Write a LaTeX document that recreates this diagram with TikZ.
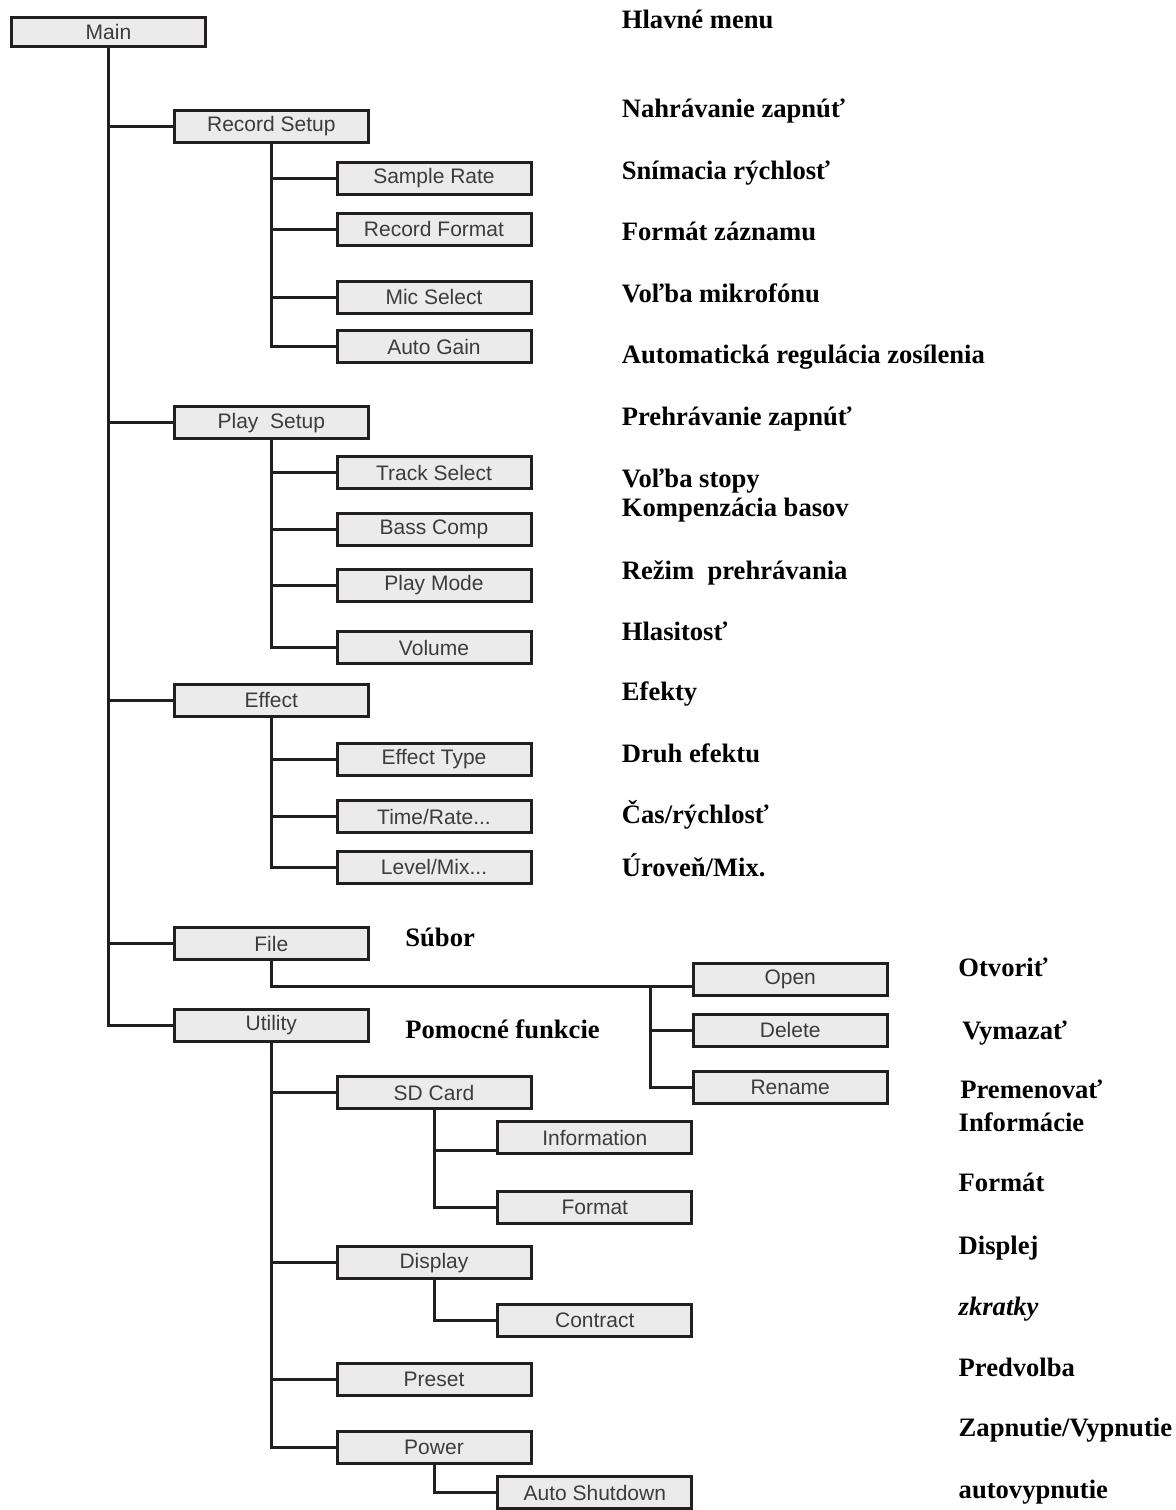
\documentclass[tikz,border=0pt]{standalone}
\usepackage{fontspec}
\setmainfont{Liberation Serif}
\setsansfont{Liberation Sans}
\definecolor{boxfill}{HTML}{EBEBEB}
\definecolor{boxline}{HTML}{231F20}
\definecolor{boxtext}{HTML}{3C3C3C}
\tikzset{
	menubox/.style={draw=boxline, fill=boxfill, line width=1.5pt, minimum width=97pt, minimum height=16pt, inner sep=0pt, outer sep=0pt, text=boxtext, font=\sffamily\fontsize{10.5}{12}\selectfont},
	link/.style={draw=boxline, line width=1.5pt},
	note/.style={anchor=base west, inner sep=0pt, font=\fontsize{13.3}{16}\selectfont\bfseries}
}

\begin{document}
\begin{tikzpicture}[x=0.5pt, y=-0.5pt]
	\useasboundingbox (0,0) rectangle (1176,1510);
	
	\node[menubox, minimum height=14.5pt] (main) at (108.5,31.7) {Main};
	
	\node[menubox] (recsetup) at (271.3,126.5) {Record Setup};
	\node[menubox] (samplerate) at (434,178) {Sample Rate};
	\node[menubox] (recformat) at (434,229.3) {Record Format};
	\node[menubox] (micselect) at (434,297) {Mic Select};
	\node[menubox] (autogain) at (434,346.7) {Auto Gain};
	
	\node[menubox] (playsetup) at (271.3,422.8) {Play\ \ Setup};
	\node[menubox] (trackselect) at (434,472.5) {Track Select};
	\node[menubox] (basscomp) at (434,529.3) {Bass Comp};
	\node[menubox] (playmode) at (434,585.3) {Play Mode};
	\node[menubox] (volume) at (434,647.5) {Volume};
	
	\node[menubox] (effect) at (271.3,700.3) {Effect};
	\node[menubox] (effecttype) at (434,759.3) {Effect Type};
	\node[menubox] (timerate) at (434,816.5) {Time/Rate...};
	\node[menubox] (levelmix) at (434,867.3) {Level/Mix...};
	
	\node[menubox] (file) at (271.3,943.5) {File};
	\node[menubox] (open) at (790.2,979.3) {Open};
	\node[menubox] (delete) at (790.2,1030) {Delete};
	\node[menubox] (rename) at (790.2,1087) {Rename};
	
	\node[menubox] (utility) at (271.3,1025.5) {Utility};
	\node[menubox] (sdcard) at (434,1092.5) {SD Card};
	\node[menubox] (info) at (594.8,1137.7) {Information};
	\node[menubox] (format) at (594.8,1207) {Format};
	\node[menubox] (display) at (434,1262.8) {Display};
	\node[menubox] (contract) at (594.8,1320.3) {Contract};
	\node[menubox] (preset) at (434,1379.7) {Preset};
	\node[menubox] (power) at (434,1447.5) {Power};
	\node[menubox] (autoshut) at (594.8,1492.5) {Auto Shutdown};
	
	\foreach \n in {recsetup,playsetup,effect,file,utility}
		\draw[link] (main.south) |- (\n.west);
	\foreach \n in {samplerate,recformat,micselect,autogain}
		\draw[link] (recsetup.south) |- (\n.west);
	\foreach \n in {trackselect,basscomp,playmode,volume}
		\draw[link] (playsetup.south) |- (\n.west);
	\foreach \n in {effecttype,timerate,levelmix}
		\draw[link] (effect.south) |- (\n.west);
	
	\coordinate (filefork) at (650,986.7);
	\draw[link] (file.south) |- ([yshift=-3.75pt]open.west);
	\draw[link] (filefork) |- (delete.west);
	\draw[link] (filefork) |- (rename.west);
	
	\foreach \n in {sdcard,display,preset,power}
		\draw[link] (utility.south) |- (\n.west);
	\draw[link] (sdcard.south) |- ([yshift=-6.5pt]info.west);
	\draw[link] (sdcard.south) |- (format.west);
	\draw[link] (display.south) |- (contract.west);
	\draw[link] (power.south) |- (autoshut.west);
	
	\node[note] (lblmain) at (621.5,28) {Hlavné menu};
	\node[note] (lblrec) at (621.5,117) {Nahrávanie zapnúť};
	\node[note] (lblrate) at (621.5,179) {Snímacia rýchlosť};
	\node[note] (lblformat) at (621.5,240) {Formát záznamu};
	\node[note] (lblmic) at (621.5,302) {Voľba mikrofónu};
	\node[note] (lblgain) at (621.5,363) {Automatická regulácia zosílenia};
	\node[note] (lblplay) at (621.5,425.7) {Prehrávanie zapnúť};
	\node[note] (lbltrack) at (621.5,487.3) {Voľba stopy};
	\node[note] (lblbass) at (621.5,516.7) {Kompenzácia basov};
	\node[note] (lblmode) at (621.5,579) {Režim\ \ prehrávania};
	\node[note] (lblvol) at (621.5,640) {Hlasitosť};
	\node[note] (lbleffect) at (621.5,700) {Efekty};
	\node[note] (lbltype) at (621.5,762) {Druh efektu};
	\node[note] (lbltime) at (621.5,823.3) {Čas/rýchlosť};
	\node[note] (lbllevel) at (621.5,876.7) {Úroveň/Mix.};
	\node[note] (lblfile) at (405,946.7) {Súbor};
	\node[note] (lblutil) at (405,1038.3) {Pomocné funkcie};
	\node[note] (lblopen) at (958,976.7) {Otvoriť};
	\node[note] (lbldelete) at (962,1039.3) {Vymazať};
	\node[note] (lblrename) at (960,1098) {Premenovať};
	\node[note] (lblinfo) at (958.3,1131.7) {Informácie};
	\node[note] (lblsdformat) at (958.3,1191.7) {Formát};
	\node[note] (lbldisplay) at (958.3,1254) {Displej};
	\node[note, font=\fontsize{13.3}{16}\selectfont\bfseries\itshape] (lblcontract) at (958.3,1315) {zkratky};
	\node[note] (lblpreset) at (958.3,1376) {Predvolba};
	\node[note] (lblpower) at (958.3,1436.7) {Zapnutie/Vypnutie};
	\node[note] (lblshut) at (958.3,1498.3) {autovypnutie};
\end{tikzpicture}
\end{document}
